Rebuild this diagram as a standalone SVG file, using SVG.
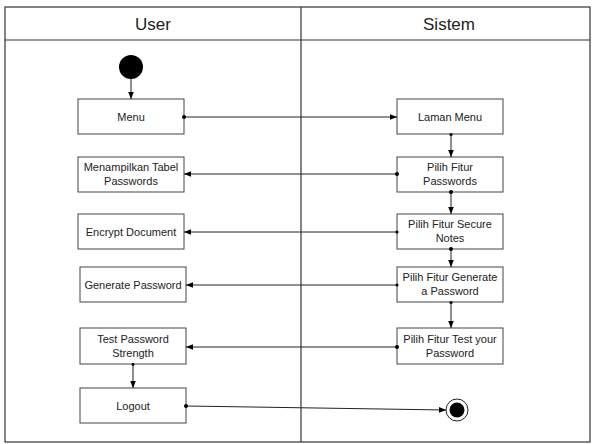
<svg xmlns="http://www.w3.org/2000/svg" width="593" height="444" viewBox="0 0 593 444">
  <style>
    .lane { fill: none; stroke: #333; stroke-width: 1.2; }
    .act rect { fill: #fff; stroke: #444; stroke-width: 1; }
    .act text { font-family: "Liberation Sans", Arial, sans-serif; font-size: 11px; fill: #222; text-anchor: middle; }
    .hdr { font-family: "Liberation Sans", Arial, sans-serif; font-size: 17px; fill: #222; text-anchor: middle; }
    .conn line, .conn path { stroke: #222; stroke-width: 1; fill: none; }
    .dot { fill: #000; }
  </style>
  <defs>
    <marker id="arr" viewBox="0 0 10 10" refX="10" refY="5" markerWidth="7" markerHeight="7" orient="auto">
      <path d="M0,1 L10,5 L0,9 Z" fill="#000"/>
    </marker>
  </defs>
  <rect width="593" height="444" fill="#fff"/>

  <!-- swimlanes -->
  <g id="lanes">
    <rect class="lane" x="5" y="7" width="585" height="435"/>
    <line class="lane" x1="5" y1="40" x2="590" y2="40"/>
    <line class="lane" x1="301" y1="7" x2="301" y2="442"/>
    <text class="hdr" x="153" y="30">User</text>
    <text class="hdr" x="449" y="30">Sistem</text>
  </g>

  <!-- start / end -->
  <g id="start"><circle cx="131" cy="67" r="12" fill="#000"/></g>
  <g id="end">
    <circle cx="457" cy="410" r="11" fill="#fff" stroke="#222" stroke-width="1"/>
    <circle cx="457" cy="410" r="7.5" fill="#000"/>
  </g>

  <!-- User activities -->
  <g id="menu" class="act"><rect x="78" y="99" width="106" height="35"/><text x="131" y="121">Menu</text></g>
  <g id="tabel" class="act"><rect x="78" y="157" width="106" height="35"/><text x="131" y="171">Menampilkan Tabel</text><text x="131" y="185">Passwords</text></g>
  <g id="encrypt" class="act"><rect x="78" y="214" width="106" height="35"/><text x="131" y="236">Encrypt Document</text></g>
  <g id="generate" class="act"><rect x="80" y="267" width="106" height="35"/><text x="133" y="289">Generate Password</text></g>
  <g id="strength" class="act"><rect x="80" y="328" width="106" height="36"/><text x="133" y="343">Test Password</text><text x="133" y="357">Strength</text></g>
  <g id="logout" class="act"><rect x="80" y="388" width="106" height="35"/><text x="133" y="410">Logout</text></g>

  <!-- Sistem activities -->
  <g id="laman" class="act"><rect x="397" y="99" width="106" height="35"/><text x="450" y="121">Laman Menu</text></g>
  <g id="fitur-pw" class="act"><rect x="397" y="157" width="106" height="35"/><text x="450" y="171">Pilih Fitur</text><text x="450" y="185">Passwords</text></g>
  <g id="fitur-notes" class="act"><rect x="397" y="214" width="106" height="35"/><text x="450" y="228">Pilih Fitur Secure</text><text x="450" y="242">Notes</text></g>
  <g id="fitur-gen" class="act"><rect x="397" y="267" width="106" height="35"/><text x="450" y="281">Pilih Fitur Generate</text><text x="450" y="295">a Password</text></g>
  <g id="fitur-test" class="act"><rect x="397" y="328" width="106" height="36"/><text x="450" y="343">Pilih Fitur Test your</text><text x="450" y="357">Password</text></g>

  <!-- connectors -->
  <g id="connectors" class="conn">
    <line x1="131" y1="79" x2="131" y2="99" marker-end="url(#arr)"/>
    <line x1="184" y1="117" x2="397" y2="117" marker-end="url(#arr)"/>
    <circle class="dot" cx="184" cy="117" r="2"/>
    <line x1="451" y1="134" x2="451" y2="157" marker-end="url(#arr)"/>
    <circle class="dot" cx="451" cy="134.5" r="1.6"/>
    <line x1="397" y1="174" x2="184" y2="174" marker-end="url(#arr)"/>
    <circle class="dot" cx="397" cy="174" r="2"/>
    <line x1="451" y1="192" x2="451" y2="214" marker-end="url(#arr)"/>
    <circle class="dot" cx="451" cy="192" r="2"/>
    <line x1="397" y1="232" x2="184" y2="232" marker-end="url(#arr)"/>
    <circle class="dot" cx="397" cy="232" r="1.6"/>
    <line x1="451" y1="249" x2="451" y2="267" marker-end="url(#arr)"/>
    <circle class="dot" cx="451" cy="249" r="2"/>
    <line x1="397" y1="285" x2="186" y2="285" marker-end="url(#arr)"/>
    <circle class="dot" cx="397" cy="285" r="1.6"/>
    <line x1="451" y1="302" x2="451" y2="328" marker-end="url(#arr)"/>
    <circle class="dot" cx="451" cy="302.5" r="1.6"/>
    <line x1="397" y1="347" x2="186" y2="347" marker-end="url(#arr)"/>
    <circle class="dot" cx="397" cy="347" r="2"/>
    <line x1="133" y1="364" x2="133" y2="388" marker-end="url(#arr)"/>
    <circle class="dot" cx="133" cy="364.5" r="1.4"/>
    <line x1="186" y1="406" x2="446" y2="410" marker-end="url(#arr)"/>
    <circle class="dot" cx="186" cy="406" r="2"/>
  </g>
</svg>
